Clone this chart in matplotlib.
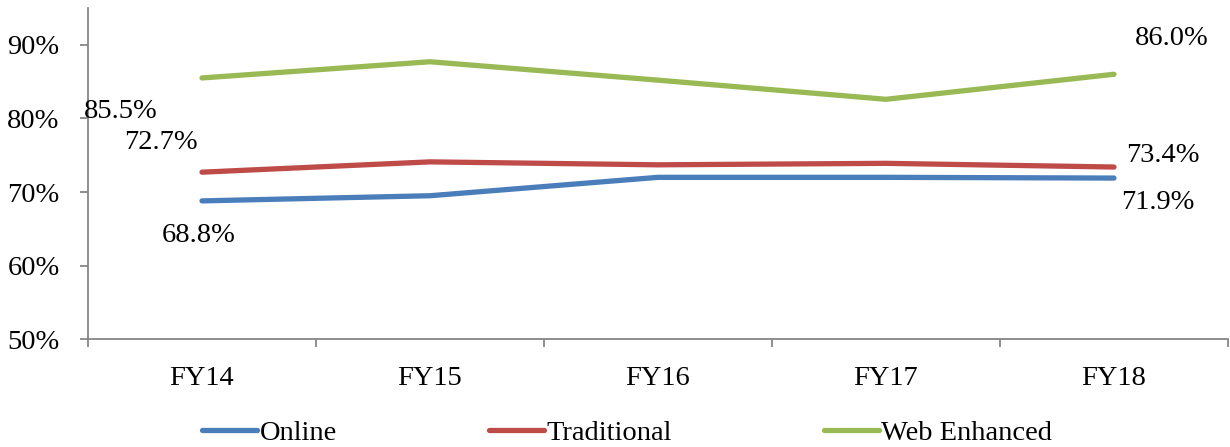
import matplotlib
matplotlib.use("Agg")
import matplotlib.pyplot as plt
from matplotlib.ticker import FixedLocator, NullFormatter, FuncFormatter

# Fiscal years and success rates (%) by course delivery mode
years = ["FY14", "FY15", "FY16", "FY17", "FY18"]
online = [68.8, 69.5, 72.0, 72.0, 71.9]
traditional = [72.7, 74.1, 73.7, 73.9, 73.4]
web_enhanced = [85.5, 87.7, 85.2, 82.6, 86.0]
y_ticks = [50, 60, 70, 80, 90]

plt.rcParams["font.family"] = ["Liberation Serif", "DejaVu Serif"]
FS = 20.5
AXIS_GREY = "#868686"

fig = plt.figure(figsize=(12.30, 4.47), dpi=100)
ax = fig.add_axes([88 / 1230, 1 - 339.3 / 447, 1140 / 1230, (339.3 - 8) / 447])

x = list(range(len(years)))
series = [
    ("Online", online, "#4A7EBB"),
    ("Traditional", traditional, "#BE4B48"),
    ("Web Enhanced", web_enhanced, "#98B954"),
]
for name, vals, col in series:
    ax.plot(x, vals, color=col, lw=3.8, solid_capstyle="round",
            solid_joinstyle="round", label=name)

ax.set_xlim(-0.5, len(years) - 0.5)
ax.set_ylim(50, 95)

# Spines
for s in ("top", "right"):
    ax.spines[s].set_visible(False)
for s in ("left", "bottom"):
    ax.spines[s].set_color(AXIS_GREY)
    ax.spines[s].set_linewidth(1.3)

# Y axis
ax.yaxis.set_major_locator(FixedLocator(y_ticks))
ax.yaxis.set_major_formatter(FuncFormatter(lambda v, p: f"{v:.0f}%"))
ax.tick_params(axis="y", which="major", direction="out", length=5.5,
               width=1.3, color=AXIS_GREY, labelsize=FS, pad=15)

# X axis: tick marks between categories, labels at category centres
ax.xaxis.set_major_locator(FixedLocator([i - 0.5 for i in range(len(years) + 1)]))
ax.xaxis.set_major_formatter(NullFormatter())
ax.xaxis.set_minor_locator(FixedLocator(x))
ax.set_xticklabels(years, minor=True)
ax.tick_params(axis="x", which="major", direction="out", length=5.5,
               width=1.3, color=AXIS_GREY)
ax.tick_params(axis="x", which="minor", length=0, labelsize=FS, pad=19)

# End-point value labels (offsets in pixels)
labels = [
    (0, web_enhanced[0], -81, -34),
    (0, traditional[0], -41, 30),
    (0, online[0], -3, -35),
    (4, web_enhanced[4], 58, 36),
    (4, traditional[4], 49, 12),
    (4, online[4], 44, -24),
]
for xi, v, dx, dy in labels:
    ax.annotate(f"{v:.1f}%", (xi, v), xytext=(dx, dy), textcoords="offset pixels",
                ha="center", va="center", fontsize=FS, annotation_clip=False)

fig.legend(loc="center", bbox_to_anchor=(0.510, 0.031), ncol=3, frameon=False,
           fontsize=FS, handlelength=1.93, handletextpad=0.08,
           columnspacing=5.35, borderpad=0, borderaxespad=0)

fig.savefig("out.png", dpi=100)
